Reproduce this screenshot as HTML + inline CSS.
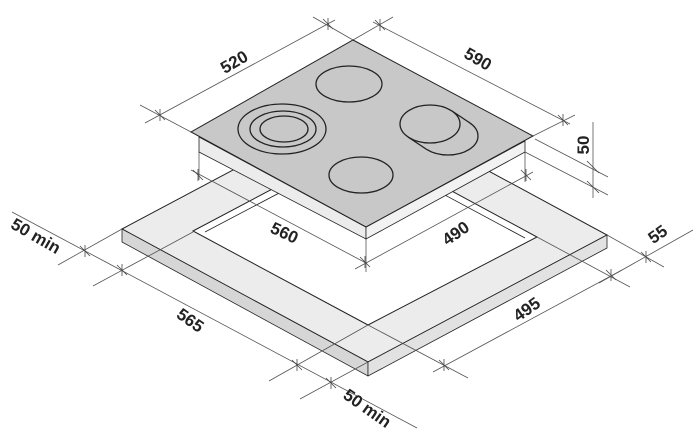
<!DOCTYPE html>
<html><head><meta charset="utf-8"><style>
html,body{margin:0;padding:0;background:#fff;}
svg{display:block;}
text{font-family:"Liberation Sans",Arial,sans-serif;font-weight:bold;font-size:17px;fill:#222;}
</style></head><body>
<svg width="696" height="441" viewBox="0 0 696 441" xmlns="http://www.w3.org/2000/svg">
<!-- cabinet frame -->
<polygon points="122,229 361,102 607,235 368,362" fill="#ececec" stroke="#222" stroke-width="1"/>
<polygon points="122,229 368,362 368,376 122,242" fill="#d6d6d6" stroke="#222" stroke-width="0.8"/>
<polygon points="368,362 607,235 607,248 368,376" fill="#e2e2e2" stroke="#222" stroke-width="0.8"/>
<polygon points="193,231 361,142 537,237 368,325" fill="#fff" stroke="#222" stroke-width="1"/>
<polyline points="205,232 361,150 525,238" fill="none" stroke="#222" stroke-width="0.8"/>
<!-- dimension lines -->
<g stroke="#555" stroke-width="0.8" fill="none">
<line x1="12" y1="212" x2="417" y2="428"/>
<line x1="58" y1="265" x2="122" y2="229"/>
<line x1="93" y1="286" x2="193" y2="232"/>
<line x1="269" y1="381" x2="368" y2="325"/>
<line x1="300" y1="399" x2="368" y2="362"/>
<line x1="433" y1="372" x2="622" y2="270"/>
<line x1="368" y1="325" x2="468" y2="378"/>
<line x1="599" y1="283" x2="693" y2="230"/>
<line x1="537" y1="237" x2="630" y2="287"/>
<line x1="607" y1="235" x2="664" y2="267"/>
<line x1="191" y1="170" x2="366" y2="263"/>
<line x1="355" y1="269" x2="533" y2="172"/>
<line x1="199" y1="152" x2="199" y2="180"/>
<line x1="366" y1="239" x2="366" y2="272"/>
<line x1="525" y1="152" x2="525" y2="182"/>
<line x1="145" y1="123" x2="335" y2="20"/>
<line x1="191" y1="132" x2="140" y2="105"/>
<line x1="353" y1="40" x2="313" y2="17"/>
<line x1="373" y1="22" x2="570" y2="124"/>
<line x1="353" y1="40" x2="393" y2="17"/>
<line x1="533" y1="136" x2="575" y2="115"/>
<line x1="593" y1="122" x2="593" y2="198"/>
<line x1="535" y1="139" x2="608" y2="177"/>
<line x1="525" y1="152" x2="608" y2="195"/>
</g>
<!-- ticks -->
<g stroke="#444" stroke-width="0.8">
<path d="M80,246 l10,10 M85,245 l0,12 M117,265 l10,10 M122,264 l0,12 M292,360 l10,10 M297,359 l0,12 M326,378 l10,10 M331,377 l0,12"/>
<path d="M439,360 l10,10 M444,359 l0,12 M606,270 l10,10 M611,269 l0,12 M641,252 l10,10 M646,251 l0,12"/>
<path d="M193,170 l10,10 M198,169 l0,12 M360,257 l10,10 M365,256 l0,12 M521,170 l10,10 M526,169 l0,12"/>
<path d="M155,110 l10,10 M160,109 l0,12 M323,19 l10,10 M328,18 l0,12 M375,20 l10,10 M380,19 l0,12 M558,115 l10,10 M563,114 l0,12"/>
<path d="M587,161 l12,12 M587,181 l12,12"/>
</g>
<!-- hob -->
<polygon points="199,137 366,227 366,239 199,152" fill="#ececec" stroke="#222" stroke-width="0.8"/>
<polygon points="366,227 525,141 525,152 366,239" fill="#f2f2f2" stroke="#222" stroke-width="0.8"/>
<polygon points="353,40 533,136 366,227 191,132" fill="#c8c8c8" stroke="#222" stroke-width="1"/>
<g fill="#c8c8c8" stroke="#222" stroke-width="1.3">
<ellipse cx="349" cy="84" rx="33" ry="18"/>
<ellipse cx="282" cy="129" rx="44" ry="25"/>
<ellipse cx="283" cy="129" rx="33" ry="18"/>
<ellipse cx="284" cy="129" rx="24" ry="13"/>
<ellipse cx="361" cy="175" rx="32" ry="18"/>
<ellipse cx="448" cy="136" rx="30" ry="19"/>
<polygon points="408,137 452,111 470,123 426,149" stroke="none"/>
<line x1="452" y1="111" x2="470" y2="123"/>
<line x1="408" y1="137" x2="426" y2="149"/>
<ellipse cx="430" cy="124" rx="30" ry="19"/>
</g>
<!-- labels -->
<text transform="translate(237,67) rotate(-30)" text-anchor="middle">520</text>
<text transform="translate(475,64) rotate(30)" text-anchor="middle">590</text>
<text transform="translate(589,145) rotate(-90)" text-anchor="middle">50</text>
<text transform="translate(33,241) rotate(30)" text-anchor="middle">50 min</text>
<text transform="translate(282,238) rotate(25)" text-anchor="middle">560</text>
<text transform="translate(459,238) rotate(-35)" text-anchor="middle">490</text>
<text transform="translate(661,239) rotate(-35)" text-anchor="middle">55</text>
<text transform="translate(187,325) rotate(35)" text-anchor="middle">565</text>
<text transform="translate(530,314) rotate(-35)" text-anchor="middle">495</text>
<text transform="translate(364,413) rotate(35)" text-anchor="middle">50 min</text>
</svg>
</body></html>
